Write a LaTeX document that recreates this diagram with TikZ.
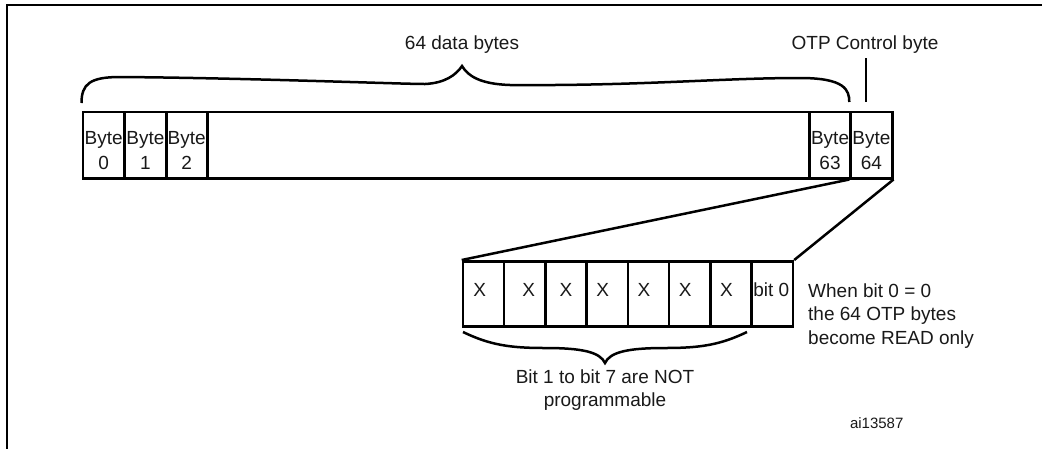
\documentclass[tikz,border=0pt]{standalone}
\usepackage{fontspec}
\setmainfont{Liberation Sans}
\begin{document}
\begin{tikzpicture}[x=1pt,y=-1pt,
  line join=miter,
  frame/.style={line width=2.2pt},
  cell/.style={draw, line width=2.5pt, inner sep=0pt, anchor=north west, minimum height=66.5pt},
  bitcell/.style={draw, line width=2.5pt, inner sep=0pt, anchor=north west, minimum height=65pt, minimum width=41.25pt},
  brace/.style={line width=2.5pt},
  zoomline/.style={line width=2.5pt},
  lbl/.style={font=\fontsize{19}{25}\selectfont, inner sep=0pt, align=center, text=black!90},
  txt/.style={font=\fontsize{19}{23.3}\selectfont, inner sep=0pt, text=black!90},
  small/.style={font=\fontsize{15}{18}\selectfont, inner sep=0pt, text=black!90}]
\useasboundingbox (0,0) rectangle (1042,448);

% frame (left and top edges visible)
\draw[frame] (7,460) -- (7,5) -- (1050,5);

% main byte row
\node[cell, minimum width=41.6pt] (c0) at (81.7,110.5) {};
\node[cell, minimum width=41.7pt] (c1) at (123.3,110.5) {};
\node[cell, minimum width=41pt] (c2) at (165,110.5) {};
\node[cell, minimum width=602.3pt] (cmid) at (206,110.5) {};
\node[cell, minimum width=41pt] (c63) at (808.3,110.5) {};
\node[cell, minimum width=41.7pt] (c64) at (849.3,110.5) {};

\node[lbl] (t0) at ([yshift=-5.4pt]c0.center) {Byte\\0};
\node[lbl] (t1) at ([yshift=-5.4pt]c1.center) {Byte\\1};
\node[lbl] (t2) at ([yshift=-5.4pt]c2.center) {Byte\\2};
\node[lbl] (t63) at ([yshift=-5.4pt]c63.center) {Byte\\63};
\node[lbl] (t64) at ([yshift=-5.4pt]c64.center) {Byte\\64};

% top labels
\node[txt, anchor=base] (data) at (462,49.5) {64 data bytes};
\node[txt, anchor=base] (otp) at (865,49.5) {OTP Control byte};
\coordinate (otptop) at (866,58);
\coordinate (otpend) at (866,102);
\draw[line width=2.5pt] (otptop) -- (otpend);

% brace over 64 data bytes
\draw[brace] (81.5,103) .. controls (81.5,84) and (90,77) .. (120,77)
  .. controls (250,78) and (400,84) .. (425,84)
  .. controls (445,83) and (456,75) .. (462,66)
  .. controls (468,76) and (480,84) .. (510,85)
  .. controls (640,86) and (720,78) .. (800,78)
  .. controls (845,78) and (849.3,90) .. (849.3,102);

% bit row
\foreach \i/\nm in {0/b7,1/b6,2/b5,3/b4,4/b3,5/b2,6/b1,7/b0}{
  \node[bitcell] (\nm) at (461.7+41.25*\i,260) {};
}
\node[txt, anchor=base] (x7) at ([xshift=-3.8pt]b7.center |- 0,296.7) {X};
\node[txt, anchor=base] (x6) at ([xshift=3.8pt]b6.center |- 0,296.7) {X};
\node[txt, anchor=base] (x5) at ([xshift=0pt]b5.center |- 0,296.7) {X};
\node[txt, anchor=base] (x4) at ([xshift=-4.5pt]b4.center |- 0,296.7) {X};
\node[txt, anchor=base] (x3) at ([xshift=-4.5pt]b3.center |- 0,296.7) {X};
\node[txt, anchor=base] (x2) at ([xshift=-4.5pt]b2.center |- 0,296.7) {X};
\node[txt, anchor=base] (x1) at ([xshift=-4.5pt]b1.center |- 0,296.7) {X};
\node[txt, anchor=base] (x0) at ([xshift=-1pt]b0.center |- 0,296.7) {bit 0};

% zoom lines
\draw[zoomline] (c64.south west) -- (b7.north west);
\draw[zoomline] (c64.south east) -- (b0.north east);

% brace under bits 1..7
\draw[brace] (463,332) .. controls (490,345) and (510,348) .. (545,348)
  .. controls (582,348) and (600,352) .. (605,363)
  .. controls (610,352) and (628,348) .. (665,348)
  .. controls (700,348) and (720,345) .. (747,332);

\node[txt, align=center, anchor=center] (notprog) at (605,390.4) {Bit 1 to bit 7 are NOT\\programmable};
\node[txt, align=left, anchor=west] (when) at (808,315.8) {When bit 0 = 0\\the 64 OTP bytes\\become READ only};
\node[small, anchor=base] (ref) at (876.7,428) {ai13587};
\end{tikzpicture}
\end{document}
